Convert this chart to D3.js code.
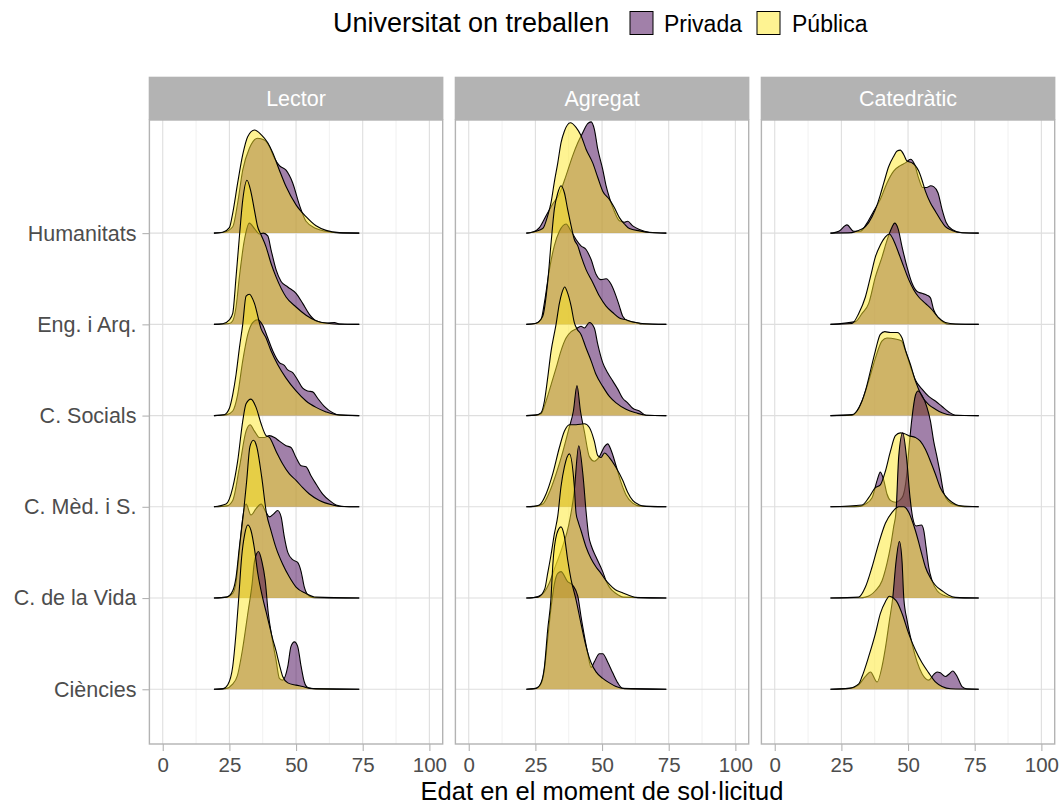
<!DOCTYPE html>
<html><head><meta charset="utf-8">
<script src="https://cdn.jsdelivr.net/npm/d3@7"></script>
<style>body{margin:0;background:#fff;} text{font-family:"Liberation Sans",Arial,sans-serif;}</style>
</head><body><svg id="c" width="1064" height="805"></svg>
<script>
// ---------------- DATA ----------------
const panels = ["Lector", "Agregat", "Catedràtic"];
const categories = ["Humanitats", "Eng. i Arq.", "C. Socials", "C. Mèd. i S.", "C. de la Vida", "Ciències"];
const groups = ["Privada", "Pública"];
const legendTitle = "Universitat on treballen";
const xTitle = "Edat en el moment de sol·licitud";
const xTicks = [0, 25, 50, 75, 100];
const xMinorTicks = [12.5, 37.5, 62.5, 87.5];
// age range of the density baseline in each panel
const ageRanges = [[19.2, 73.7], [21.6, 74.1], [20.9, 76.5]];

// ridge heights (in row units) at given ages: [age, height]; one list per category (top to bottom)
const lectorPrivada = [
  [[23,.01],[26.25,.07],[28.1,.33],[30,.69],[32.5,.93],[35.6,1.04],[38.1,1.02],[40,.95],[41.9,.82],[43.75,.74],[46.25,.69],[48.75,.55],[51.25,.31],[53.75,.13],[57.5,.05],[61.25,.02],[65,.005]],
  [[25,.01],[26.25,.04],[27.5,.19],[28.75,.52],[30.6,.92],[32.5,1.11],[34.4,1.05],[36.25,.99],[37.75,1.0],[39.4,.97],[40.6,.82],[42.5,.6],[44.4,.47],[46.9,.41],[50,.34],[52.5,.23],[55,.11],[57.5,.04],[61.25,.015],[64.4,.02],[66.25,.004]],
  [[24,.01],[26.25,.05],[28.1,.23],[30,.6],[31.9,.89],[33.75,1.02],[35.6,1.05],[37.5,.99],[39.4,.85],[41.25,.71],[43.75,.58],[45.6,.55],[46.9,.5],[48.75,.47],[50.6,.39],[52.5,.3],[54.4,.27],[56.25,.26],[58.1,.19],[60.6,.1],[63.75,.03],[66.25,.004]],
  [[24,.01],[26.25,.07],[28.75,.43],[31.25,.83],[32.75,.9],[34.4,.83],[36.25,.76],[38.1,.76],[40,.78],[41.9,.76],[43.75,.72],[46.25,.67],[48.1,.65],[50,.54],[51.9,.45],[53.75,.44],[55.6,.34],[57.5,.25],[60,.14],[62.5,.07],[65,.02],[68,.003]],
  [[24,.01],[26.25,.05],[27.5,.17],[28.75,.52],[30,.88],[31.25,1.03],[33.1,.91],[35,.98],[36.9,1.03],[38.75,.94],[40,.89],[41.5,.92],[43.1,.96],[44.4,.89],[45.6,.67],[46.9,.5],[48.75,.42],[50.6,.39],[51.9,.29],[53.1,.12],[55,.02],[57,.003]],
  [[24,.01],[26,.05],[28,.15],[30,.45],[32,.85],[33.5,1.15],[34.4,1.4],[35.9,1.51],[37.2,1.4],[38.4,1.2],[39.6,.83],[40.9,.58],[42.5,.32],[43.75,.12],[45,.1],[46.9,.25],[48.1,.47],[49.4,.52],[50.6,.47],[51.9,.25],[53.1,.08],[54.4,.02],[57.5,.004]]
];
const lectorPublica = [
  [[22.5,.01],[25,.06],[26.25,.22],[28.1,.55],[30,.86],[31.9,1.06],[34.4,1.13],[36.9,1.08],[39.4,.99],[41.25,.88],[43.75,.69],[46.25,.51],[50,.31],[53.75,.18],[57.5,.08],[61.25,.03],[66.25,.005]],
  [[22.5,.007],[25,.05],[26.25,.12],[27.5,.52],[28.75,.96],[30,1.36],[31.6,1.58],[33.1,1.45],[34.4,1.25],[35.6,1.07],[36.9,.98],[38.75,.85],[40.6,.67],[42.5,.52],[46.25,.3],[50,.19],[53.75,.1],[57.5,.04],[62.5,.01],[66,.002]],
  [[23.1,.01],[25,.08],[26.25,.23],[27.5,.45],[28.75,.74],[30,1.0],[31.25,1.31],[32.5,1.33],[34.4,1.23],[36.9,.95],[38.75,.85],[40.6,.71],[43.1,.56],[46.25,.41],[50,.27],[53.75,.16],[57.5,.09],[61.25,.04],[65,.01]],
  [[23.75,.03],[26.25,.21],[28.1,.5],[30,.94],[31.25,1.13],[33.1,1.18],[35,1.09],[36.9,.91],[38.75,.78],[40,.76],[42.5,.61],[45,.47],[47.5,.36],[50,.29],[52.5,.21],[55,.14],[58.75,.07],[63.75,.02],[67,.003]],
  [[24,.01],[26.25,.08],[27.5,.23],[28.75,.56],[30.2,.91],[31.5,1.29],[32.7,1.66],[34,1.73],[35.25,1.66],[37.1,1.33],[38.9,.93],[40.6,.74],[42.5,.55],[45,.37],[47.5,.23],[50,.12],[53.75,.05],[57.5,.01]],
  [[22.5,.004],[24.4,.05],[26.25,.25],[27.5,.62],[28.5,1.0],[29.6,1.45],[30.75,1.7],[31.9,1.8],[33.1,1.74],[34.4,1.54],[35.6,1.28],[37.5,1.0],[38.75,.85],[40,.7],[41.25,.55],[42.5,.42],[43.75,.27],[45,.14],[46.9,.07],[50,.045],[52.5,.03],[55,.01]]
];
const agregatPrivada = [
  [[24,.01],[26.5,.06],[29,.19],[31.5,.32],[34,.43],[36.5,.63],[39,.85],[40.9,.99],[42.75,1.1],[44.6,1.2],[45.9,1.22],[47.1,1.14],[48.4,.92],[50.25,.7],[51.5,.52],[52.75,.39],[54.6,.24],[56.5,.135],[58.4,.12],[59.6,.13],[61.5,.08],[64,.04],[67.75,.01]],
  [[25,.01],[27.1,.05],[28.4,.24],[30.25,.6],[32.1,.86],[34,1.02],[36.5,1.1],[38.4,1.02],[40.25,.93],[42.1,.86],[44,.82],[45.9,.71],[47.75,.55],[49.6,.49],[51.5,.5],[53.4,.44],[55.25,.31],[56.5,.2],[57.75,.09],[59.6,.04],[62.75,.02],[65,.004]],
  [[25,.005],[27.1,.02],[29,.16],[30.9,.34],[32.75,.52],[34.6,.71],[36.5,.85],[38.4,.92],[40.25,.95],[42.1,.98],[43.4,.96],[45.25,1.02],[47.1,.96],[48.4,.78],[50.25,.58],[52.1,.47],[54,.38],[55.9,.29],[57.75,.19],[59.6,.14],[61.5,.08],[64,.05],[66.5,.004]],
  [[25,.005],[27.75,.03],[30.25,.16],[32.75,.36],[35.25,.6],[37.5,.85],[39.25,1.05],[40.6,1.33],[41.9,1.05],[43.4,.82],[45.25,.55],[47.1,.5],[49,.55],[50.9,.66],[52.1,.69],[53.4,.62],[55.25,.45],[57.1,.27],[59,.13],[61.5,.04],[64,.01]],
  [[24,.003],[27.5,.04],[30,.15],[32.5,.35],[35,.55],[37.5,.8],[39.5,1.15],[41.25,1.67],[43,1.3],[44,.95],[45,.68],[46,.57],[47.75,.45],[50.25,.29],[51.5,.19],[52.75,.12],[55.25,.05],[58,.01]],
  [[25.25,.01],[27.1,.06],[28.4,.22],[29.6,.55],[30.9,.9],[32.1,1.15],[33.4,1.27],[34.6,1.29],[37.1,1.18],[39,1.14],[40.9,1.02],[42.1,.8],[43.4,.58],[44.6,.4],[45.9,.24],[47.1,.3],[49,.39],[50.25,.39],[52.1,.3],[54,.18],[55.9,.07],[57.75,.01]]
];
const agregatPublica = [
  [[22.75,.005],[27.75,.05],[29.6,.19],[30.9,.34],[32.1,.56],[33.4,.77],[34.6,.99],[35.9,1.12],[38.1,1.21],[40.25,1.16],[42.1,1.07],[44,.92],[46.5,.77],[48.4,.61],[50.25,.46],[52.75,.37],[54.6,.28],[56.5,.17],[58.4,.1],[60.25,.05],[64,.025],[67.75,.007]],
  [[25,.01],[27.75,.09],[29.6,.46],[30.9,.9],[32.1,1.26],[33.4,1.44],[34.6,1.52],[35.9,1.44],[37.1,1.26],[38.4,1.08],[39.6,.93],[40.9,.86],[42.1,.75],[44,.6],[46.5,.46],[49,.31],[51.5,.2],[54,.13],[56.5,.07],[59,.05],[61.5,.025],[65,.01]],
  [[25,.005],[27.1,.03],[28.4,.16],[29.6,.41],[30.9,.71],[32.1,.9],[32.75,1.0],[34,1.23],[35,1.35],[36,1.41],[37,1.35],[38.4,1.2],[39.6,1.02],[40.6,.95],[42.1,.89],[44,.74],[45.9,.6],[47.75,.45],[50.25,.32],[52.75,.21],[55.25,.14],[59,.07],[62.75,.03],[66.5,.004]],
  [[24,.005],[26.5,.02],[29,.14],[31.5,.36],[34,.65],[35.9,.83],[37.75,.9],[40.25,.9],[43.4,.91],[45.25,.87],[47.1,.72],[48.4,.56],[49.6,.54],[50.9,.59],[52.75,.54],[55.25,.43],[57.75,.29],[59.6,.16],[61.5,.07],[64,.02],[66.5,.004]],
  [[26,.01],[28.5,.1],[29.6,.27],[30.9,.48],[32.1,.7],[33.4,.9],[34.6,1.22],[35.9,1.44],[37.75,1.58],[39.6,1.22],[40.25,.93],[41,.84],[42.1,.74],[44,.56],[45.9,.43],[47.75,.34],[49.6,.27],[51.5,.19],[52.75,.15],[55,.09],[57.5,.06],[60,.03],[63.4,.004]],
  [[25.25,.01],[27.1,.07],[28.4,.25],[29.6,.65],[30.9,1.02],[31.5,1.35],[33,1.7],[34.6,1.78],[35.9,1.67],[37.1,1.42],[38.4,1.2],[40.25,.98],[42.1,.72],[44,.47],[45.9,.29],[47.75,.19],[50.25,.12],[52.75,.07],[55.25,.03],[58.4,.007]]
];
const catedraticPrivada = [
  [[22,.003],[24,.02],[27.1,.09],[29.6,.02],[32.1,.02],[34.6,.11],[37.1,.24],[39.6,.37],[42.1,.55],[44.6,.68],[47.1,.74],[49,.77],[50.9,.81],[52.5,.75],[54,.6],[55.5,.5],[57,.5],[58.5,.52],[59.6,.51],[61.25,.44],[62.75,.26],[64.25,.12],[66.5,.04],[70.25,.004]],
  [[30.25,.03],[32.75,.12],[35.25,.23],[37.75,.52],[40.25,.74],[42.1,.92],[43.75,1.05],[45,1.11],[46.25,1.05],[47.75,.85],[49.6,.63],[51.5,.45],[53.4,.36],[55.25,.34],[57.1,.32],[58.4,.29],[59.6,.16],[61.5,.07],[63.4,.02],[65,.004]],
  [[29,.005],[32.75,.16],[35.25,.38],[37.75,.63],[40.25,.82],[42.1,.85],[45.25,.84],[47.5,.82],[49,.71],[50.9,.54],[52.75,.39],[55.25,.29],[57.75,.21],[60.25,.16],[62.75,.1],[65.25,.04],[67.75,.004]],
  [[32,.005],[34,.03],[36.5,.1],[38.4,.29],[39.6,.38],[40.9,.29],[42.1,.14],[43.4,.07],[45.25,.05],[47.75,.1],[49.5,.35],[50.25,.61],[51.5,.98],[52.75,1.22],[53.75,1.27],[55.25,1.22],[57.1,1.09],[58.4,.94],[59.6,.72],[60.9,.54],[62.1,.36],[63.4,.15],[65.25,.06],[67.75,.02],[70,.005]],
  [[32,.003],[34,.01],[37.75,.08],[40.25,.19],[42.1,.38],[43.4,.56],[44.6,.78],[45.5,.95],[46.5,1.55],[48,1.81],[49.4,1.55],[50.75,1.1],[51.75,.88],[53,.79],[55,.8],[55.9,.74],[56.75,.56],[57.75,.34],[59,.19],[60.9,.08],[63.4,.03],[66.5,.004]],
  [[28,.01],[31.5,.05],[34,.14],[35.9,.19],[38.4,.08],[40.25,.25],[41.5,.45],[43,.75],[44.25,1.0],[45.5,1.4],[46.75,1.62],[47.75,1.4],[48.4,1.0],[49.6,.76],[51.5,.5],[53.4,.3],[55.25,.17],[57.75,.1],[59.6,.16],[60.9,.19],[62.1,.18],[64,.14],[65.5,.17],[66.75,.2],[68.4,.14],[70.25,.03],[72.1,.004]]
];
const catedraticPublica = [
  [[29,.005],[31.5,.03],[34,.07],[36.5,.18],[38.4,.31],[39.6,.42],[40.9,.55],[42.75,.73],[44.6,.84],[45.9,.9],[47.1,.91],[48.4,.86],[49.6,.79],[51.5,.77],[52.75,.74],[54,.68],[55.25,.58],[56.5,.46],[58.4,.33],[60.25,.24],[62.1,.15],[64,.07],[66.5,.03],[70.25,.004]],
  [[29,.01],[31.5,.12],[34,.3],[35.9,.52],[37.75,.74],[39.6,.87],[41.5,.96],[43,.99],[44.6,.92],[46.5,.78],[48.4,.63],[50.25,.49],[52.1,.38],[54,.3],[56.5,.23],[59,.16],[61.5,.07],[64,.02],[67.75,.004]],
  [[29,.01],[31.5,.08],[34,.27],[35.9,.49],[37.75,.71],[39.6,.89],[41.25,.92],[43.4,.91],[45.9,.91],[47.75,.85],[49,.72],[50.9,.56],[52.75,.38],[55.25,.21],[57.75,.12],[60.25,.07],[62.75,.03],[66.5,.004]],
  [[32.75,.02],[35.25,.1],[37.75,.21],[39.6,.24],[41.5,.39],[43.4,.61],[45.25,.78],[47.1,.81],[48.75,.8],[50.25,.78],[52.75,.76],[54.6,.72],[56.5,.63],[58.4,.5],[60.25,.36],[62.1,.21],[64,.12],[66.5,.05],[69,.015]],
  [[31.5,.01],[34,.12],[36.5,.34],[39,.6],[41.5,.82],[44,.94],[46.5,1.0],[48.4,1.0],[50.25,.94],[51.5,.85],[52.75,.74],[54,.61],[55.25,.47],[56.5,.34],[58.4,.22],[60.25,.14],[62.75,.08],[65.25,.03],[67.75,.007]],
  [[27.75,.01],[31.5,.06],[32.75,.14],[35.25,.36],[37.75,.61],[39.6,.83],[41.5,.96],[43,1.02],[44.5,1.0],[46,.95],[47.75,.83],[50.25,.61],[52.75,.43],[55.25,.29],[57.75,.18],[60.25,.08],[62.75,.03],[66,.005]]
];
const fillColors = ["#440154", "#FDE725"];
const keyColors = ["#a180a9", "#fef392"];

// ---------------- LAYOUT ----------------
const densities = [[lectorPrivada, lectorPublica], [agregatPrivada, agregatPublica], [catedraticPrivada, catedraticPublica]];
const svg = d3.select("#c");
const panelLeft0 = 149.4, panelW = 293.3, panelStep = 306.0;
const panelTop = 120, panelBottom = 744, stripTop = 76.7;
const catIndex = d3.scaleOrdinal().domain(categories).range([6, 5, 4, 3, 2, 1]);
const y = d3.scaleLinear().domain([0.4, 7.24]).range([panelBottom, panelTop]);

panels.forEach((p, pi) => {
  const left = panelLeft0 + pi * panelStep;
  const x = d3.scaleLinear().domain([-5, 105]).range([left, left + panelW]);
  const g = svg.append("g");
  // grid
  g.selectAll(".minor").data(xMinorTicks).join("line")
    .attr("x1", d => x(d)).attr("x2", d => x(d)).attr("y1", panelTop).attr("y2", panelBottom)
    .attr("stroke", "#ebebeb").attr("stroke-width", 0.7);
  g.selectAll(".major").data(xTicks).join("line")
    .attr("x1", d => x(d)).attr("x2", d => x(d)).attr("y1", panelTop).attr("y2", panelBottom)
    .attr("stroke", "#dedede").attr("stroke-width", 1.1);
  g.selectAll(".hmajor").data(categories).join("line")
    .attr("x1", left).attr("x2", left + panelW)
    .attr("y1", d => y(catIndex(d))).attr("y2", d => y(catIndex(d)))
    .attr("stroke", "#dedede").attr("stroke-width", 1.1);

  const clipId = "clip" + pi;
  svg.append("clipPath").attr("id", clipId).append("rect")
    .attr("x", left).attr("y", panelTop).attr("width", panelW).attr("height", panelBottom - panelTop);
  const ridges = g.append("g").attr("clip-path", `url(#${clipId})`);
  const [rmin, rmax] = ageRanges[pi];
  categories.forEach((c, ci) => {
    const idx = catIndex(c);
    groups.forEach((gr, gi) => {
      const pts = [[rmin, 0], ...densities[pi][gi][ci], [rmax, 0]];
      const area = d3.area().curve(d3.curveMonotoneX)
        .x(d => x(d[0])).y0(y(idx)).y1(d => y(idx + d[1]));
      const line = d3.line().curve(d3.curveMonotoneX)
        .x(d => x(d[0])).y(d => y(idx + d[1]));
      ridges.append("path").attr("d", area(pts))
        .attr("fill", fillColors[gi]).attr("fill-opacity", 0.5);
      ridges.append("path").attr("d", line(pts))
        .attr("fill", "none").attr("stroke", "#000").attr("stroke-width", 1.1);
    });
  });
  // border
  g.append("rect").attr("x", left).attr("y", panelTop).attr("width", panelW).attr("height", panelBottom - panelTop)
    .attr("fill", "none").attr("stroke", "#b3b3b3").attr("stroke-width", 1.4);
  // strip
  g.append("rect").attr("x", left - 0.7).attr("y", stripTop).attr("width", panelW + 1.4).attr("height", panelTop - stripTop)
    .attr("fill", "#b3b3b3");
  g.append("text").attr("x", left + panelW / 2).attr("y", (stripTop + panelTop) / 2).attr("dy", "0.35em")
    .attr("text-anchor", "middle").attr("fill", "#fff").style("font-size", "21.5px").text(p);
  // x axis
  const ax = g.append("g").attr("transform", `translate(0,${panelBottom})`)
    .call(d3.axisBottom(x).tickValues(xTicks).tickSize(7).tickPadding(6.5));
  ax.select(".domain").remove();
  ax.selectAll("line").attr("stroke", "#b3b3b3").attr("stroke-width", 1.1);
  ax.selectAll("text").attr("fill", "#4d4d4d").style("font-size", "20.5px").style("font-family", "Liberation Sans, Arial, sans-serif");
});

// y axis
const ay = svg.append("g").attr("transform", `translate(${panelLeft0},0)`)
  .call(d3.axisLeft(y).tickValues(categories.map(c => catIndex(c))).tickFormat((d, i) => categories[i]).tickSize(7).tickPadding(6));
ay.select(".domain").remove();
ay.selectAll("line").attr("stroke", "#b3b3b3").attr("stroke-width", 1.1);
ay.selectAll("text").attr("fill", "#4d4d4d").style("font-size", "21.5px").style("font-family", "Liberation Sans, Arial, sans-serif");

// x title
const plotMid = (panelLeft0 + panelLeft0 + 2 * panelStep + panelW) / 2;
svg.append("text").attr("x", plotMid).attr("y", 800).attr("text-anchor", "middle")
  .attr("fill", "#000").style("font-size", "25.5px").text(xTitle);

// legend
const lg = svg.append("g");
lg.append("text").attr("x", 333).attr("y", 32).attr("fill", "#000").style("font-size", "27px").text(legendTitle);
const keyX = [630, 757], labX = [664, 792];
groups.forEach((gr, gi) => {
  lg.append("rect").attr("x", keyX[gi]).attr("y", 11.5).attr("width", 23).attr("height", 23)
    .attr("fill", keyColors[gi]).attr("stroke", "#000").attr("stroke-width", 1);
  lg.append("text").attr("x", labX[gi]).attr("y", 31.5).attr("fill", "#000").style("font-size", "23px").text(gr);
});
</script></body></html>
